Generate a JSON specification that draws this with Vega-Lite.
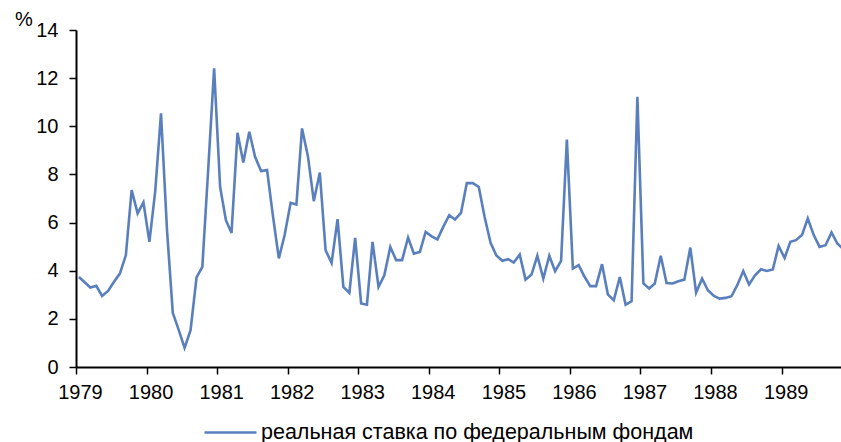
{
  "$schema": "https://vega.github.io/schema/vega-lite/v6.json",
  "width": 765,
  "height": 337,
  "autosize": "none",
  "padding": {"left": 76, "top": 30, "right": 0, "bottom": 75},
  "config": {
    "view": {"stroke": null},
    "font": "Liberation Sans",
    "axis": {
      "grid": false,
      "domainColor": "black",
      "domainWidth": 2,
      "tickColor": "black",
      "tickWidth": 1.5,
      "tickSize": 7,
      "labelColor": "black",
      "labelFontSize": 20,
      "labelFont": "Liberation Sans"
    }
  },
  "data": {
    "values": [
      {"date": "1979-01-16", "value": 3.74},
      {"date": "1979-02-15", "value": 3.52},
      {"date": "1979-03-16", "value": 3.30},
      {"date": "1979-04-16", "value": 3.37},
      {"date": "1979-05-16", "value": 2.95},
      {"date": "1979-06-16", "value": 3.16},
      {"date": "1979-07-16", "value": 3.53},
      {"date": "1979-08-16", "value": 3.88},
      {"date": "1979-09-16", "value": 4.64},
      {"date": "1979-10-16", "value": 7.35},
      {"date": "1979-11-16", "value": 6.38},
      {"date": "1979-12-16", "value": 6.84},
      {"date": "1980-01-16", "value": 5.20},
      {"date": "1980-02-15", "value": 7.30},
      {"date": "1980-03-16", "value": 10.54},
      {"date": "1980-04-16", "value": 5.70},
      {"date": "1980-05-16", "value": 2.25},
      {"date": "1980-06-16", "value": 1.53},
      {"date": "1980-07-16", "value": 0.79},
      {"date": "1980-08-16", "value": 1.53},
      {"date": "1980-09-16", "value": 3.72},
      {"date": "1980-10-16", "value": 4.16},
      {"date": "1980-11-16", "value": 8.30},
      {"date": "1980-12-16", "value": 12.41},
      {"date": "1981-01-16", "value": 7.48},
      {"date": "1981-02-15", "value": 6.10},
      {"date": "1981-03-16", "value": 5.57},
      {"date": "1981-04-16", "value": 9.73},
      {"date": "1981-05-16", "value": 8.50},
      {"date": "1981-06-16", "value": 9.77},
      {"date": "1981-07-16", "value": 8.73},
      {"date": "1981-08-16", "value": 8.14},
      {"date": "1981-09-16", "value": 8.18},
      {"date": "1981-10-16", "value": 6.30},
      {"date": "1981-11-16", "value": 4.51},
      {"date": "1981-12-16", "value": 5.48},
      {"date": "1982-01-16", "value": 6.82},
      {"date": "1982-02-15", "value": 6.75},
      {"date": "1982-03-16", "value": 9.91},
      {"date": "1982-04-16", "value": 8.73},
      {"date": "1982-05-16", "value": 6.89},
      {"date": "1982-06-16", "value": 8.08},
      {"date": "1982-07-16", "value": 4.85},
      {"date": "1982-08-16", "value": 4.32},
      {"date": "1982-09-16", "value": 6.14},
      {"date": "1982-10-16", "value": 3.33},
      {"date": "1982-11-16", "value": 3.08},
      {"date": "1982-12-16", "value": 5.36},
      {"date": "1983-01-16", "value": 2.64},
      {"date": "1983-02-15", "value": 2.59},
      {"date": "1983-03-16", "value": 5.20},
      {"date": "1983-04-16", "value": 3.33},
      {"date": "1983-05-16", "value": 3.81},
      {"date": "1983-06-16", "value": 4.99},
      {"date": "1983-07-16", "value": 4.44},
      {"date": "1983-08-16", "value": 4.44},
      {"date": "1983-09-16", "value": 5.38},
      {"date": "1983-10-16", "value": 4.71},
      {"date": "1983-11-16", "value": 4.78},
      {"date": "1983-12-16", "value": 5.61},
      {"date": "1984-01-16", "value": 5.43},
      {"date": "1984-02-15", "value": 5.30},
      {"date": "1984-03-16", "value": 5.82},
      {"date": "1984-04-16", "value": 6.31},
      {"date": "1984-05-16", "value": 6.13},
      {"date": "1984-06-16", "value": 6.40},
      {"date": "1984-07-16", "value": 7.64},
      {"date": "1984-08-16", "value": 7.64},
      {"date": "1984-09-16", "value": 7.48},
      {"date": "1984-10-16", "value": 6.24},
      {"date": "1984-11-16", "value": 5.16},
      {"date": "1984-12-16", "value": 4.63},
      {"date": "1985-01-16", "value": 4.41},
      {"date": "1985-02-15", "value": 4.48},
      {"date": "1985-03-16", "value": 4.34},
      {"date": "1985-04-16", "value": 4.67},
      {"date": "1985-05-16", "value": 3.63},
      {"date": "1985-06-16", "value": 3.84},
      {"date": "1985-07-16", "value": 4.62},
      {"date": "1985-08-16", "value": 3.67},
      {"date": "1985-09-16", "value": 4.62},
      {"date": "1985-10-16", "value": 3.98},
      {"date": "1985-11-16", "value": 4.41},
      {"date": "1985-12-16", "value": 9.45},
      {"date": "1986-01-16", "value": 4.09},
      {"date": "1986-02-15", "value": 4.23},
      {"date": "1986-03-16", "value": 3.77},
      {"date": "1986-04-16", "value": 3.36},
      {"date": "1986-05-16", "value": 3.36},
      {"date": "1986-06-16", "value": 4.27},
      {"date": "1986-07-16", "value": 3.02},
      {"date": "1986-08-16", "value": 2.77},
      {"date": "1986-09-16", "value": 3.74},
      {"date": "1986-10-16", "value": 2.59},
      {"date": "1986-11-16", "value": 2.73},
      {"date": "1986-12-16", "value": 11.23},
      {"date": "1987-01-16", "value": 3.47},
      {"date": "1987-02-15", "value": 3.26},
      {"date": "1987-03-16", "value": 3.47},
      {"date": "1987-04-16", "value": 4.62},
      {"date": "1987-05-16", "value": 3.49},
      {"date": "1987-06-16", "value": 3.47},
      {"date": "1987-07-16", "value": 3.56},
      {"date": "1987-08-16", "value": 3.63},
      {"date": "1987-09-16", "value": 4.96},
      {"date": "1987-10-16", "value": 3.09},
      {"date": "1987-11-16", "value": 3.67},
      {"date": "1987-12-16", "value": 3.19},
      {"date": "1988-01-16", "value": 2.95},
      {"date": "1988-02-15", "value": 2.84},
      {"date": "1988-03-16", "value": 2.87},
      {"date": "1988-04-16", "value": 2.94},
      {"date": "1988-05-16", "value": 3.40},
      {"date": "1988-06-16", "value": 3.99},
      {"date": "1988-07-16", "value": 3.43},
      {"date": "1988-08-16", "value": 3.81},
      {"date": "1988-09-16", "value": 4.06},
      {"date": "1988-10-16", "value": 3.99},
      {"date": "1988-11-16", "value": 4.05},
      {"date": "1988-12-16", "value": 5.03},
      {"date": "1989-01-16", "value": 4.53},
      {"date": "1989-02-15", "value": 5.20},
      {"date": "1989-03-16", "value": 5.27},
      {"date": "1989-04-16", "value": 5.48},
      {"date": "1989-05-16", "value": 6.17},
      {"date": "1989-06-16", "value": 5.48},
      {"date": "1989-07-16", "value": 4.99},
      {"date": "1989-08-16", "value": 5.06},
      {"date": "1989-09-16", "value": 5.59},
      {"date": "1989-10-16", "value": 5.13},
      {"date": "1989-11-16", "value": 4.90}
    ]
  },
  "mark": {"type": "line", "strokeWidth": 2.6, "clip": true},
  "encoding": {
    "x": {
      "field": "date",
      "type": "temporal",
      "scale": {
        "type": "utc",
        "domain": [
          {"year": 1979, "month": 1, "date": 1, "utc": true},
          {"year": 1989, "month": 11, "date": 4, "utc": true}
        ]
      },
      "axis": {
        "title": null,
        "values": [
          {"year": 1979, "month": 1, "date": 1, "utc": true},
          {"year": 1980, "month": 1, "date": 1, "utc": true},
          {"year": 1981, "month": 1, "date": 1, "utc": true},
          {"year": 1982, "month": 1, "date": 1, "utc": true},
          {"year": 1983, "month": 1, "date": 1, "utc": true},
          {"year": 1984, "month": 1, "date": 1, "utc": true},
          {"year": 1985, "month": 1, "date": 1, "utc": true},
          {"year": 1986, "month": 1, "date": 1, "utc": true},
          {"year": 1987, "month": 1, "date": 1, "utc": true},
          {"year": 1988, "month": 1, "date": 1, "utc": true},
          {"year": 1989, "month": 1, "date": 1, "utc": true}
        ],
        "format": "%Y",
        "formatType": "utc",
        "labelPadding": 8,
        "labelOffset": 4,
        "labelOverlap": false,
        "labelFlush": false
      }
    },
    "y": {
      "field": "value",
      "type": "quantitative",
      "scale": {"domain": [0, 14], "nice": false, "zero": true},
      "axis": {
        "values": [0, 2, 4, 6, 8, 10, 12, 14],
        "title": "%",
        "titleAngle": 0,
        "titleX": -52.5,
        "titleY": -10.5,
        "titleAlign": "center",
        "titleBaseline": "middle",
        "titleFontSize": 20,
        "titleFontWeight": "normal",
        "titleColor": "black",
        "titleFont": "Liberation Sans",
        "labelPadding": 11,
        "labelOverlap": false,
        "labelFlush": false
      }
    },
    "color": {
      "datum": "реальная ставка по федеральным фондам",
      "type": "nominal",
      "scale": {"range": ["#5a7fbd"]},
      "legend": {
        "orient": "none",
        "legendX": 127,
        "legendY": 375,
        "title": null,
        "padding": 0,
        "symbolType": "stroke",
        "symbolSize": 2704,
        "symbolStrokeWidth": 2.6,
        "labelFontSize": 21.5,
        "labelColor": "black",
        "labelFont": "Liberation Sans",
        "labelOffset": 3,
        "labelLimit": 0
      }
    }
  }
}
